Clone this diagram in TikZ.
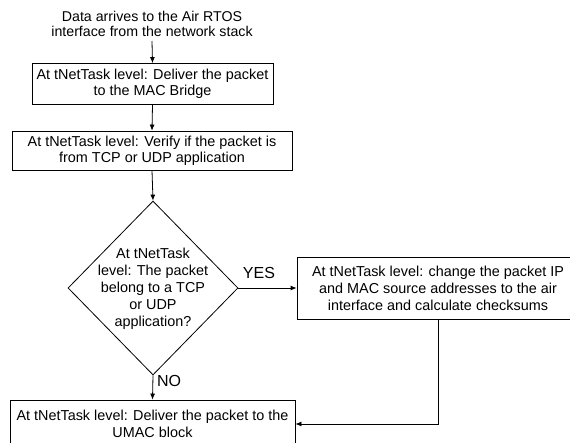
\documentclass[tikz,border=0pt]{standalone}
\usepackage{fontspec}
\setmainfont{Liberation Sans}
\usetikzlibrary{shapes.geometric,arrows.meta}
\begin{document}
\begin{tikzpicture}[x=1pt,y=-1pt,
  every node/.style={font=\fontsize{14.4}{16}\selectfont, align=center, inner sep=0pt},
  stepbox/.style={draw, line width=0.8pt, rectangle},
  wide/.style={font=\fontsize{14.4}{17}\selectfont},
  flow/.style={line width=0.8pt, -{Latex[length=6pt,width=5pt]}},
  tag/.style={font=\fontsize{16}{16}\selectfont}]
  \useasboundingbox (0,0) rectangle (570,442);
  \clip (0,0) rectangle (570,442);

  % text and boxes of the main column
  \node[font=\fontsize{14.2}{15}\selectfont] (src) at (152,24) {Data arrives to the Air RTOS\\interface from the network stack};
  \node[stepbox, minimum width=241pt, minimum height=41pt] (bridge) at (152.5,84)
    {At tNetTask level: Deliver the packet\\to the MAC Bridge};
  \node[stepbox, minimum width=280pt, minimum height=39pt] (verify) at (152,150.5)
    {At tNetTask level: Verify if the packet is\\from TCP or UDP application};

  % decision
  \node[diamond, draw, line width=0.8pt, minimum width=170pt, minimum height=174pt] (dec) at (153,288) {};
  \node[wide] at (153,289)
    {At tNetTask\\level: The packet\\belong to a TCP\\or UDP\\application?};

  % address rewrite box
  \node[stepbox, wide, minimum width=282pt, minimum height=62pt] (rewrite) at (438,288)
    {At tNetTask level: change the packet IP\\and MAC source addresses to the air\\interface and calculate checksums};

  % delivery to UMAC
  \node[stepbox, wide, minimum width=285pt, minimum height=48pt] (umac) at (152.5,424)
    {At tNetTask level: Deliver the packet to the\\UMAC block};

  % connectors
  \draw[flow] (src.south |- 0,41) -- (bridge.north);
  \draw[flow] (bridge.south) -- (verify.north);
  \draw[flow] (verify.south) -- (dec.north);
  \draw[flow] (dec.east) -- (rewrite.west);
  \draw[flow] (dec.south) -- (umac.north);
  \draw[flow] (rewrite.south) |- (umac.east);

  % branch labels
  \node[tag] (yes) at (259,273) {YES};
  \node[tag] (no) at (169,381) {NO};
\end{tikzpicture}
\end{document}
